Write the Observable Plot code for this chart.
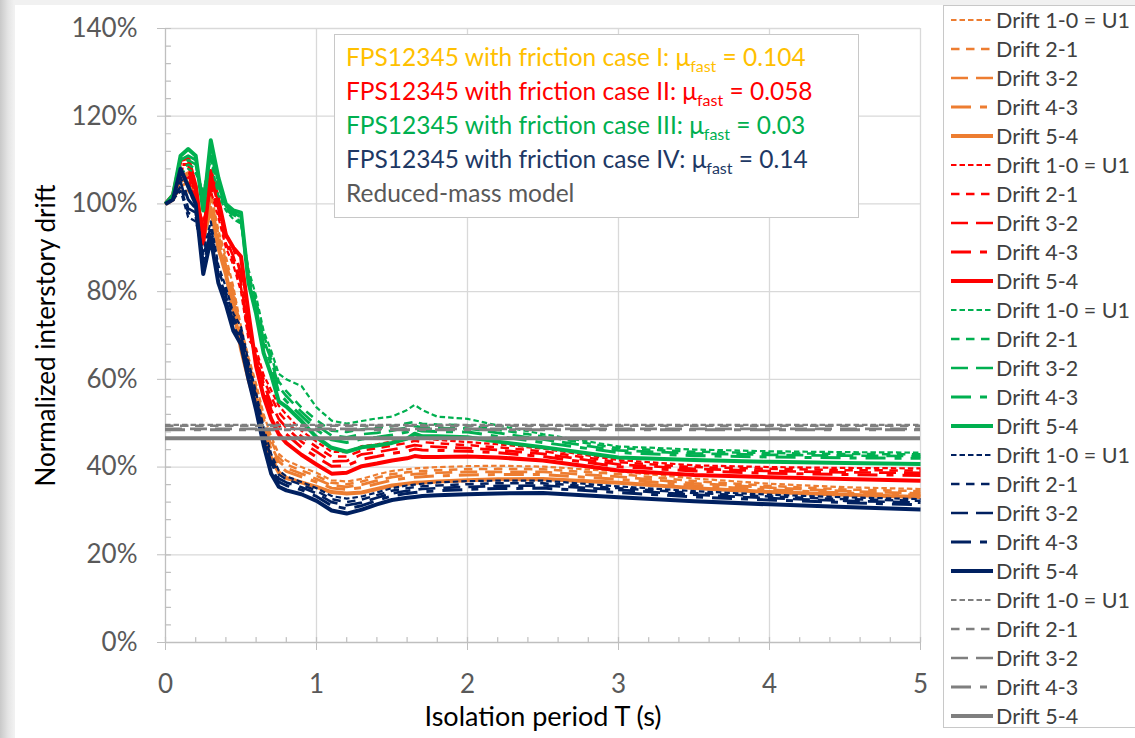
<!DOCTYPE html>
<html>
<head>
<meta charset="utf-8">
<script src="https://cdn.jsdelivr.net/npm/d3@7"></script>
<script src="https://cdn.jsdelivr.net/npm/@observablehq/plot@0.6"></script>
<style>
html,body{margin:0;padding:0;}
body{width:1135px;height:738px;position:relative;overflow:hidden;
  background:linear-gradient(to right,#c9c9c9 0px,#e4e4e4 8px,#f1f1f1 14px);
  font-family:Lato,"Open Sans",sans-serif;}
#page{position:absolute;left:15px;top:5px;right:0;bottom:0;background:#fff;}
#chart{position:absolute;left:0;top:0;}
#note{position:absolute;left:334px;top:34px;width:525px;height:184px;box-sizing:border-box;
  border:1px solid #c8c8c8;background:#fff;font-size:24.5px;}
#note div{position:absolute;left:11px;white-space:nowrap;}
#note sub{font-size:16px;vertical-align:-6px;line-height:0;}
#legend{position:absolute;left:943px;top:5px;width:200px;height:723px;box-sizing:border-box;
  border:1px solid #c8c8c8;background:#fff;}
</style>
</head>
<body>
<div id="page"></div>
<div id="chart"></div>
<div id="note">
  <div style="top:7px;color:#FFC000">FPS12345 with friction case I: μ<sub>fast</sub> = 0.104</div>
  <div style="top:41px;color:#FF0000">FPS12345 with friction case II: μ<sub>fast</sub> = 0.058</div>
  <div style="top:75px;color:#00B050">FPS12345 with friction case III: μ<sub>fast</sub> = 0.03</div>
  <div style="top:109px;color:#203864">FPS12345 with friction case IV: μ<sub>fast</sub> = 0.14</div>
  <div style="top:143px;color:#595959">Reduced-mass model</div>
</div>
<div id="legend"></div>
<script>
// ---------------- data ----------------
const T = [0, 0.05, 0.1, 0.15, 0.2, 0.25, 0.3, 0.35, 0.4, 0.45, 0.5, 0.55, 0.6, 0.65, 0.7, 0.75, 0.8, 0.9,
  1.0, 1.1, 1.2, 1.3, 1.4, 1.5, 1.6, 1.65, 1.7, 1.8, 2.0, 2.2, 2.5, 3.0, 3.5, 4.0, 4.5, 5.0];

const driftNames = ["Drift 1-0 = U1", "Drift 2-1", "Drift 3-2", "Drift 4-3", "Drift 5-4"];
const caseNames = ["I", "II", "III", "IV", "Reduced-mass"];

// Case I (orange), mu_fast = 0.104
const caseI_d10 = [100, 101, 103, 103, 100, 96, 103, 94, 88, 81, 72, 65, 59, 52, 47, 43, 41.5, 40, 38.7, 37, 36.7, 37.3, 38.3, 39.1, 39.5, 39.7, 39.8, 40, 40.2, 40.3, 40.1, 39, 37.4, 36.2, 35.4, 35];
const caseI_d21 = [100, 101, 104, 104, 101, 95, 102, 93, 87, 80, 71, 64, 58, 51, 46, 42.2, 40.6, 39.2, 38, 36.4, 36.1, 36.7, 37.6, 38.4, 38.8, 39, 39.1, 39.3, 39.5, 39.6, 39.5, 38.4, 36.8, 35.7, 34.9, 34.5];
const caseI_d32 = [100, 101, 104, 105, 102, 94, 101, 92, 86, 79, 70, 63, 57, 50, 45, 41.3, 39.8, 38.5, 37.3, 35.8, 35.5, 36, 36.9, 37.7, 38.2, 38.4, 38.5, 38.7, 38.9, 38.9, 38.9, 37.8, 36.3, 35.3, 34.5, 34];
const caseI_d43 = [100, 101, 105, 106, 103, 93, 100, 91, 85, 78, 69, 62, 56, 49, 44, 40.5, 39, 37.8, 36.6, 35.2, 34.9, 35.3, 36.2, 37, 37.5, 37.7, 37.8, 38, 38.2, 38.3, 38.3, 37.2, 35.8, 34.8, 34.1, 33.6];
const caseI_d54 = [100, 101, 106, 107, 104, 92, 99, 90, 84, 76, 67, 60, 54, 47, 42, 38.8, 37.5, 36.5, 35.5, 34.3, 34, 34.2, 35, 35.8, 36.2, 36.4, 36.5, 36.7, 37, 37.2, 37.3, 36.4, 35.2, 34.3, 33.7, 33.2];

// Case II (red), mu_fast = 0.058
const caseII_d10 = [100, 102, 106, 106, 100, 96, 103, 97, 90, 86, 80, 69, 67, 61, 57.5, 54, 52, 48.3, 45.8, 43.5, 43.4, 44.8, 45.2, 45.8, 46.4, 47, 46.6, 46.2, 45.7, 45.2, 44.2, 41.6, 40.4, 40, 39.8, 39.7];
const caseII_d21 = [100, 102, 107, 107, 101, 95, 104, 98, 91, 87, 81, 70, 66, 60, 56, 52.5, 50.5, 47, 44.6, 42.4, 42.4, 43.8, 44.3, 44.9, 45.5, 46, 45.7, 45.4, 45, 44.5, 43.6, 41.1, 40, 39.6, 39.3, 39.2];
const caseII_d32 = [100, 102, 108, 108, 102, 94, 105, 99, 92, 88, 82, 71, 65, 59, 54.5, 51, 49, 45.8, 43.5, 41.3, 41.4, 42.9, 43.4, 44, 44.6, 45, 44.8, 44.6, 44.3, 43.9, 43, 40.6, 39.6, 39.1, 38.8, 38.7];
const caseII_d43 = [100, 102, 109, 109, 103, 93, 106, 100, 93, 90, 84, 72, 64, 58, 53, 49.5, 47.5, 44.5, 42.3, 40.2, 40.3, 41.8, 42.4, 43.1, 43.6, 44.1, 43.9, 43.8, 43.6, 43.3, 42.4, 40.1, 39.1, 38.6, 38.3, 38.1];
const caseII_d54 = [100, 102, 110, 110.5, 104, 91, 107.5, 101, 93, 90, 88, 75, 63, 56, 51, 47.5, 45.5, 42.8, 40.6, 38.5, 38.7, 40.2, 40.8, 41.5, 42, 42.5, 42.3, 42.3, 42.4, 42.2, 41.5, 39.2, 38.2, 37.7, 37.3, 36.9];

// Case III (green), mu_fast = 0.03
const caseIII_d10 = [100, 102, 107, 108, 107, 103, 110, 102, 98.5, 96.5, 95.5, 85, 79, 71, 66.5, 61.3, 60, 58.5, 53.6, 50.6, 49.9, 50.5, 51.1, 51.5, 53, 54.2, 53, 51.5, 51, 49.5, 47.5, 44.7, 44, 43.6, 43.4, 43.3];
const caseIII_d21 = [100, 102, 108, 109, 108, 102, 111, 103, 99, 97, 96, 84, 78, 70, 65.5, 59.5, 57.3, 53.6, 50.7, 48.3, 48, 48.6, 48.9, 49.3, 50, 50.3, 49.9, 49.7, 49.5, 48.5, 47, 44.3, 43.5, 43.2, 43, 42.9];
const caseIII_d32 = [100, 102, 109, 110, 109, 101, 112, 104, 99.5, 97.5, 96.5, 83, 77, 69, 64.5, 58.3, 56.2, 52.6, 49.5, 47.2, 46.8, 47.5, 47.8, 48.3, 49, 49.4, 49, 48.9, 48.8, 47.8, 46.3, 43.8, 43.1, 42.8, 42.6, 42.5];
const caseIII_d43 = [100, 102, 110, 111, 110, 100, 113, 105, 100, 98, 97, 82, 76, 68, 63.5, 57, 55, 51.7, 48.5, 46.2, 45.6, 46.4, 46.8, 47.3, 48, 48.6, 48.2, 48.1, 48, 47, 45.6, 43.3, 42.6, 42.3, 42.1, 42];
const caseIII_d54 = [100, 102, 111, 112.5, 111, 98.5, 114.5, 106, 100, 98.5, 98, 82, 75, 66, 61, 55, 53.8, 50.5, 46.8, 44.4, 43.5, 44.5, 44.9, 45.5, 46.5, 47.6, 47, 47, 46.8, 45.8, 44.5, 42.2, 41.6, 41.2, 40.9, 40.7];

// Case IV (navy), mu_fast = 0.14
const caseIV_d10 = [100, 101, 103, 97, 96, 89, 96, 86, 81, 75, 72, 64, 57, 49, 43, 39.2, 37.9, 36.6, 35.2, 33.4, 32.8, 33.3, 34.2, 35.2, 35.8, 36, 36.2, 36.5, 36.8, 36.9, 36.9, 35.6, 34.5, 33.7, 33.1, 32.7];
const caseIV_d21 = [100, 101, 104, 98, 97, 88, 95, 85, 80, 74, 71, 63, 56, 48, 42, 38.3, 37.2, 36, 34.6, 32.7, 32, 32.6, 33.6, 34.6, 35.2, 35.4, 35.6, 35.8, 36.1, 36.3, 36.3, 35.2, 34.1, 33.3, 32.7, 32.3];
const caseIV_d32 = [100, 101, 105, 99, 98, 87, 94, 84, 79, 73, 70, 62, 55, 47, 41, 37.4, 36.5, 35.4, 34, 32, 31.3, 31.9, 33, 34, 34.6, 34.8, 35, 35.2, 35.5, 35.7, 35.8, 34.8, 33.7, 32.9, 32.3, 31.9];
const caseIV_d43 = [100, 101, 106, 101, 99, 86, 93, 83, 78, 72, 69, 61, 54, 46, 40, 36.6, 35.8, 34.8, 33.3, 31.2, 30.5, 31.2, 32.4, 33.4, 34, 34.2, 34.4, 34.6, 34.9, 35.1, 35.2, 34.2, 33.2, 32.5, 31.9, 31.4];
const caseIV_d54 = [100, 101, 108, 104, 100, 84, 92, 82, 77, 71, 68, 60, 53, 45, 38.5, 35.5, 34.7, 33.8, 32.3, 30.1, 29.4, 30.3, 31.5, 32.5, 33, 33.2, 33.4, 33.6, 33.8, 34, 34.1, 33.1, 32.2, 31.5, 30.9, 30.3];

// Reduced-mass model (constant levels)
const reducedMass = [49.6, 49.4, 48.7, 48.5, 46.6];

const yTicks = [0, 20, 40, 60, 80, 100, 120, 140];
const xTicks = [0, 1, 2, 3, 4, 5];

// ---------------- styles ----------------
const caseColors = ["#ED7D31", "#FF0000", "#00B050", "#002060", "#7F7F7F"];
const driftDash = ["5.5,3", "8.5,6.5", "17,8", "20,9,7,9", null];
const driftWidth = [2.2, 2.5, 2.7, 3, 4];

const caseSeries = [
  [caseI_d10, caseI_d21, caseI_d32, caseI_d43, caseI_d54],
  [caseII_d10, caseII_d21, caseII_d32, caseII_d43, caseII_d54],
  [caseIII_d10, caseIII_d21, caseIII_d32, caseIII_d43, caseIII_d54],
  [caseIV_d10, caseIV_d21, caseIV_d32, caseIV_d43, caseIV_d54]
];

const FONT = "Lato, 'Open Sans', sans-serif";
const tickShape = {draw(ctx, l) { ctx.moveTo(0, 0); ctx.lineTo(0, -l); }};

const marks = [
  Plot.gridY(yTicks.filter(d => d > 0), {stroke: "#d9d9d9", strokeOpacity: 1, strokeWidth: 1.3}),
  Plot.gridX(xTicks.filter(d => d > 0), {stroke: "#d9d9d9", strokeOpacity: 1, strokeWidth: 1.3}),
  Plot.ruleX([0], {stroke: "#bfbfbf", strokeWidth: 1.3}),
  Plot.ruleY([0], {stroke: "#bfbfbf", strokeWidth: 1.3}),
  Plot.vector(d3.range(0, 141, 4), {x: 0, y: d => d, rotate: 90, length: 5, anchor: "start", shape: tickShape, stroke: "#bfbfbf", strokeWidth: 1.2}),
  Plot.vector(d3.range(0, 26).map(i => i / 5), {x: d => d, y: 0, rotate: 0, length: 5, anchor: "start", shape: tickShape, stroke: "#bfbfbf", strokeWidth: 1.2}),
  Plot.axisX({ticks: xTicks, tickSize: 8, tickFormat: () => "", stroke: "#bfbfbf", label: null}),
  Plot.axisY({ticks: yTicks, tickSize: 8, tickFormat: () => "", stroke: "#bfbfbf", label: null}),
  Plot.axisX({ticks: xTicks, tickSize: 0, tickPadding: 32, fontSize: 26, color: "#595959", label: null, tickFormat: d => String(d)}),
  Plot.axisY({ticks: yTicks, tickSize: 0, tickPadding: 28, fontSize: 26, color: "#595959", label: null, tickFormat: d => d + "%"}),
  Plot.text(["Isolation period T (s)"], {frameAnchor: "bottom", dy: 83, fontSize: 27, fill: "#000"}),
  Plot.text(["Normalized interstory drift"], {frameAnchor: "left", textAnchor: "middle", dx: -119, rotate: -90, fontSize: 26, fill: "#000"})
];

caseSeries.forEach((series, ci) => {
  series.forEach((vals, di) => {
    const rows = T.map((t, i) => ({T: t, v: vals[i]}));
    marks.push(Plot.line(rows, {
      x: "T", y: "v", stroke: caseColors[ci], strokeWidth: driftWidth[di],
      strokeDasharray: driftDash[di], strokeLinejoin: "round", strokeLinecap: "butt"
    }));
  });
});
reducedMass.forEach((v, di) => {
  marks.push(Plot.ruleY([v], {stroke: caseColors[4], strokeWidth: driftWidth[di], strokeDasharray: driftDash[di]}));
});

const chart = Plot.plot({
  width: 1135, height: 738,
  marginLeft: 165, marginRight: 215, marginTop: 28, marginBottom: 96,
  x: {domain: [0, 5]},
  y: {domain: [0, 140]},
  style: {background: "transparent", fontFamily: FONT, overflow: "visible"},
  marks
});
document.getElementById("chart").appendChild(chart);

// ---------------- legend ----------------
const ns = "http://www.w3.org/2000/svg";
const lsvg = document.createElementNS(ns, "svg");
lsvg.setAttribute("width", 200); lsvg.setAttribute("height", 723);
lsvg.style.position = "absolute"; lsvg.style.left = "-1px"; lsvg.style.top = "-1px";
let k = 0;
caseColors.forEach((col, ci) => {
  driftNames.forEach((name, di) => {
    const cy = 15 + 29 * k;
    const ln = document.createElementNS(ns, "line");
    ln.setAttribute("x1", 8); ln.setAttribute("x2", 50);
    ln.setAttribute("y1", cy); ln.setAttribute("y2", cy);
    ln.setAttribute("stroke", col);
    ln.setAttribute("stroke-width", driftWidth[di]);
    if (driftDash[di]) ln.setAttribute("stroke-dasharray", driftDash[di]);
    lsvg.appendChild(ln);
    const tx = document.createElementNS(ns, "text");
    tx.setAttribute("x", 53); tx.setAttribute("y", cy);
    tx.setAttribute("dominant-baseline", "central");
    tx.setAttribute("font-family", FONT);
    tx.setAttribute("font-size", 21.5);
    tx.setAttribute("fill", "#404040");
    tx.textContent = name;
    lsvg.appendChild(tx);
    k++;
  });
});
document.getElementById("legend").appendChild(lsvg);
</script>
</body>
</html>
